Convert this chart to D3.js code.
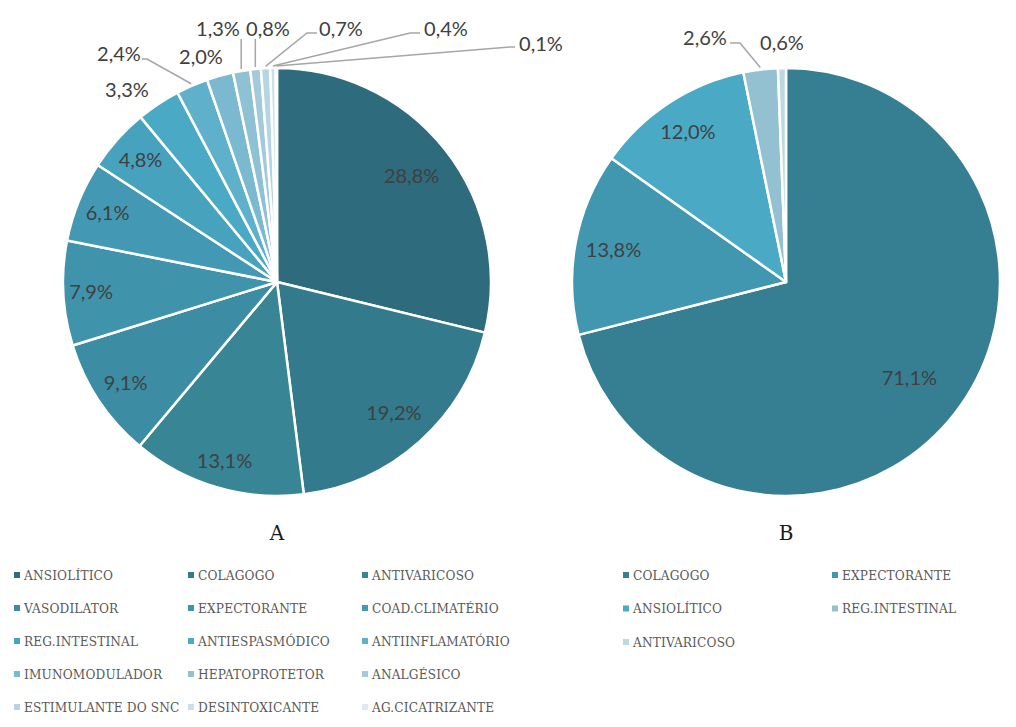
<!DOCTYPE html>
<html><head><meta charset="utf-8">
<script src="https://cdn.jsdelivr.net/npm/d3@7"></script>
<style>body{margin:0;background:#fff} svg{display:block}</style>
</head><body><svg id="c" width="1016" height="727"></svg>
<script>
// ---------- data ----------
const categoriesA = ["ANSIOLÍTICO","COLAGOGO","ANTIVARICOSO","VASODILATOR","EXPECTORANTE","COAD.CLIMATÉRIO","REG.INTESTINAL","ANTIESPASMÓDICO","ANTIINFLAMATÓRIO","IMUNOMODULADOR","HEPATOPROTETOR","ANALGÉSICO","ESTIMULANTE DO SNC","DESINTOXICANTE","AG.CICATRIZANTE"];
const valuesA = [28.8,19.2,13.1,9.1,7.9,6.1,4.8,3.3,2.4,2.0,1.3,0.8,0.7,0.4,0.1];
const categoriesB = ["COLAGOGO","EXPECTORANTE","ANSIOLÍTICO","REG.INTESTINAL","ANTIVARICOSO"];
const valuesB = [71.1,13.8,12.0,2.6,0.6];
const panelTitles = ["A","B"];

// ---------- styles / layout ----------
const colorsA = ["#2e6b7d","#337a8c","#388596","#3c8da3","#3f94ac","#4399b4","#47a2be","#4aaac6","#5fb1cb","#7ab9d0","#8fc1d5","#a3cadb","#b6d5e2","#c8e0ea","#dbeaf1"];
const colorsB = ["#367f93","#4297b0","#4aaac6","#93c1d2","#bcd9e3"];
const R = 214;
const cx = [277, 786], cy = 282;
// label layout: inner radial fraction, or outside offset (relative to centre) with optional leader
const layoutA = [
  {r:0.80},{r:0.82},{r:0.87},{r:0.85},{r:0.87},{r:0.855},{r:0.855},
  {dx:-150,dy:-192},
  {dx:-158,dy:-228,line:[[-130,-223],[-135,-223]]},
  {dx:-76,dy:-225},
  {dx:-59,dy:-253,up:-243},
  {dx:-9,dy:-253,up:-243},
  {dx:64,dy:-253,line:[[30,-249],[40,-249]]},
  {dx:169,dy:-253,line:[[133,-249],[143,-249]]},
  {dx:264,dy:-238,line:[[233,-235],[238,-235]]}
];
const layoutB = [
  {r:0.73},{r:0.82},{r:0.84},
  {dx:-81,dy:-244,line:[[-46,-239],[-56,-239]]},
  {dx:-4,dy:-239}
];
const legendA = {cols:[14,188,362], y0:575, step:33, ncol:3};
const legendB = {cols:[623,832], y0:575, step:33.5, ncol:2};

const fmt = v => d3.format(".1f")(v).replace(".", ",") + "%";
const svg = d3.select("#c");

function drawPie(i, cats, vals, colors, layout, leg) {
  const g = svg.append("g").attr("transform", `translate(${cx[i]},${cy})`);
  const pie = d3.pie().sort(null).value(d => d)(vals);
  const arc = d3.arc().innerRadius(0).outerRadius(R);
  g.selectAll("path.s").data(pie).join("path")
    .attr("d", arc).attr("fill", (d, j) => colors[j])
    .attr("stroke", "#fff").attr("stroke-width", 2.5).attr("stroke-linejoin","round");
  pie.forEach((d, j) => {
    const L = layout[j];
    const a = (d.startAngle + d.endAngle) / 2;
    let x, y;
    if (L.r !== undefined) {
      x = Math.sin(a) * R * L.r; y = -Math.cos(a) * R * L.r;
    } else {
      x = L.dx; y = L.dy;
      const px = Math.sin(a) * (R + 2), py = -Math.cos(a) * (R + 2);
      let pts = null;
      if (L.line) pts = [[px, py], ...L.line];
      else if (L.up !== undefined) pts = [[px, py], [px, L.up]];
      if (pts) g.append("path").attr("d", d3.line()(pts))
        .attr("fill", "none").attr("stroke", "#a6a6a6").attr("stroke-width", 1.5);
    }
    g.append("text").attr("x", x).attr("y", y).attr("dy", "0.36em")
      .attr("text-anchor", "middle")
      .attr("font-family", "Lato, 'Open Sans', sans-serif").attr("font-size", 20)
      .attr("fill", "#404040").text(fmt(vals[j]));
  });
  svg.append("text").attr("x", cx[i]).attr("y", 540).attr("text-anchor", "middle")
    .attr("font-family", "'DejaVu Serif', serif").attr("font-size", 20)
    .attr("fill", "#1a1a1a").text(panelTitles[i]);
  // legend
  cats.forEach((c, j) => {
    const col = j % leg.ncol, row = Math.floor(j / leg.ncol);
    const x = leg.cols[col], y = leg.y0 + row * leg.step;
    svg.append("rect").attr("x", x).attr("y", y - 3).attr("width", 6).attr("height", 6)
      .attr("fill", colors[j]);
    svg.append("text").attr("x", x + 10).attr("y", y).attr("dy", "0.36em")
      .attr("font-family", "'DejaVu Serif', serif").attr("font-stretch", "condensed")
      .attr("font-size", 13.5).attr("letter-spacing", 0.15)
      .attr("fill", "#595959").text(c);
  });
}
drawPie(0, categoriesA, valuesA, colorsA, layoutA, legendA);
drawPie(1, categoriesB, valuesB, colorsB, layoutB, legendB);
</script></body></html>
